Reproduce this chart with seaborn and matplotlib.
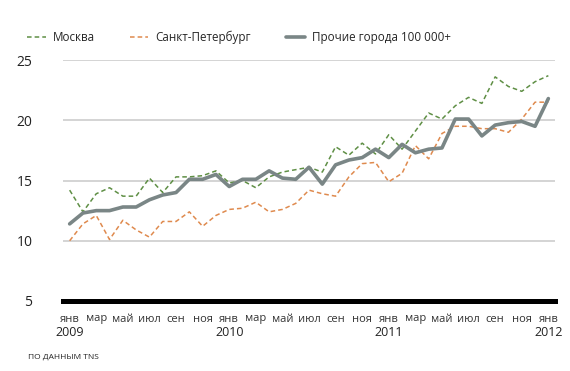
import pandas as pd
import seaborn as sns
import matplotlib.pyplot as plt

# monthly values, Jan 2009 .. Jan 2012
moscow = [14.2, 12.4, 13.9, 14.4, 13.7, 13.7, 15.2, 14.0, 15.3, 15.3, 15.4, 15.8,
          14.8, 15.0, 14.4, 15.3, 15.7, 15.9, 16.1, 15.7, 17.8, 17.1, 18.1, 17.2,
          18.8, 17.6, 19.1, 20.6, 20.1, 21.2, 21.9, 21.4, 23.6, 22.8, 22.4, 23.2, 23.7]
spb = [10.0, 11.4, 12.1, 10.1, 11.7, 10.9, 10.3, 11.6, 11.6, 12.4, 11.2, 12.1,
       12.6, 12.7, 13.2, 12.4, 12.6, 13.1, 14.2, 13.9, 13.7, 15.3, 16.4, 16.5,
       14.9, 15.6, 17.9, 16.8, 18.9, 19.5, 19.5, 19.3, 19.3, 19.0, 20.1, 21.5, 21.5]
others = [11.4, 12.3, 12.5, 12.5, 12.8, 12.8, 13.4, 13.8, 14.0, 15.1, 15.1, 15.5,
          14.5, 15.1, 15.1, 15.8, 15.2, 15.1, 16.1, 14.7, 16.3, 16.7, 16.9, 17.6,
          16.9, 18.0, 17.3, 17.6, 17.7, 20.1, 20.1, 18.7, 19.6, 19.8, 19.9, 19.5, 21.8]
months = ["янв", "мар", "май", "июл", "сен", "ноя"]
years = ["2009", "2010", "2011", "2012"]
yticks = [5, 10, 15, 20, 25]

idx = list(range(len(moscow)))
df = pd.DataFrame({"i": idx, "moscow": moscow, "spb": spb, "others": others})

sns.set_style("white")
plt.rcParams["font.family"] = ["Open Sans", "DejaVu Sans"]

fig = plt.figure(figsize=(5.7, 3.71), dpi=100)
ax = fig.add_axes([63 / 570, 1 - 301 / 371, 492 / 570, 241 / 371])

sns.lineplot(data=df, x="i", y="moscow", ax=ax, color="#5f8f45", lw=1.1,
             label="Москва").lines[-1].set_dashes([3, 2])
sns.lineplot(data=df, x="i", y="spb", ax=ax, color="#df8a4e", lw=1.1,
             label="Санкт-Петербург").lines[-1].set_dashes([3, 2])
sns.lineplot(data=df, x="i", y="others", ax=ax, color="#7a8686", lw=2.6,
             label="Прочие города 100 000+")

ax.set_xlim(-0.5, 36.5)
ax.set_ylim(5, 25)
ax.set_yticks(yticks)
ax.set_yticklabels([str(v) for v in yticks], fontsize=10, color="#222222")
ax.yaxis.grid(True, color="#c9c9c9", lw=1.1)
ax.set_axisbelow(True)

xt = list(range(0, 37, 2))
ax.set_xticks(xt)
ax.set_xticklabels([months[(k // 2) % 6] for k in xt], fontsize=8,
                   color="#333333")
ax.tick_params(axis="both", length=0)
ax.tick_params(axis="y", pad=22)
ax.tick_params(axis="x", pad=9)

# year labels under each January
for n, yr in enumerate(years):
    ax.annotate(yr, xy=(n * 12, 0), xycoords=("data", "axes fraction"),
                xytext=(0, -31), textcoords="offset pixels", ha="center",
                va="center", fontsize=9, color="#222222")

ax.set_xlabel("")
ax.set_ylabel("")
for s in ["top", "right", "left"]:
    ax.spines[s].set_visible(False)
ax.spines["bottom"].set_color("black")
ax.spines["bottom"].set_linewidth(3.6)

ax.get_legend().remove()
h, l = ax.get_legend_handles_labels()
h[0].set_dashes([3, 2])
h[1].set_dashes([3, 2])
fig.legend(h, l, loc="center left", bbox_to_anchor=(27 / 570, 1 - 37 / 371),
           ncol=3, frameon=False, fontsize=8.4, handlelength=1.6,
           columnspacing=3.0, handletextpad=0.6, borderpad=0, borderaxespad=0)

fig.text(28 / 570, 1 - 357 / 371, "ПО ДАННЫМ TNS", fontsize=6, color="#222222",
         va="center", ha="left")

fig.savefig("out.png", dpi=100)
